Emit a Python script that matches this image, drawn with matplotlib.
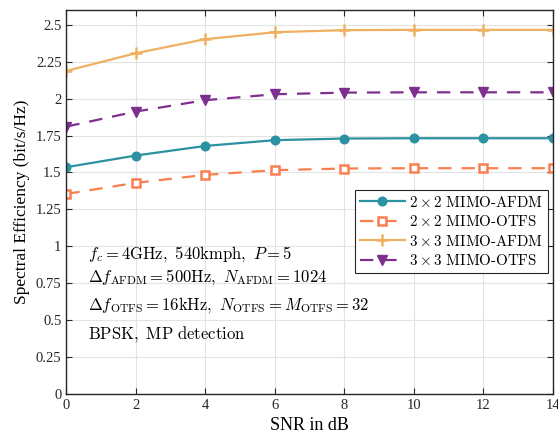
import matplotlib
matplotlib.use('Agg')
import matplotlib.pyplot as plt

snr = [0, 2, 4, 6, 8, 10, 12, 14]
se_afdm_2x2 = [1.536, 1.615, 1.680, 1.719, 1.730, 1.732, 1.732, 1.732]
se_otfs_2x2 = [1.355, 1.430, 1.484, 1.516, 1.527, 1.529, 1.529, 1.529]
se_afdm_3x3 = [2.188, 2.308, 2.403, 2.450, 2.464, 2.466, 2.466, 2.466]
se_otfs_3x3 = [1.811, 1.913, 1.990, 2.030, 2.041, 2.043, 2.043, 2.043]

labels = [r'$2\times2$ MIMO-AFDM', r'$2\times2$ MIMO-OTFS',
          r'$3\times3$ MIMO-AFDM', r'$3\times3$ MIMO-OTFS']
yticks = [0, 0.25, 0.5, 0.75, 1, 1.25, 1.5, 1.75, 2, 2.25, 2.5]
ytick_labels = ['0', '0.25', '0.5', '0.75', '1', '1.25', '1.5', '1.75', '2', '2.25', '2.5']

notes = [r'$f_c = 4\mathrm{GHz},\ 540\mathrm{kmph},\ P = 5$',
         r'$\Delta f_{\mathrm{AFDM}} = 500\mathrm{Hz},\ N_{\mathrm{AFDM}} = 1024$',
         r'$\Delta f_{\mathrm{OTFS}} = 16\mathrm{kHz},\ N_{\mathrm{OTFS}} = M_{\mathrm{OTFS}} = 32$',
         r'$\mathrm{BPSK},\ \mathrm{MP\ detection}$']
note_y = [0.92, 0.765, 0.574, 0.377]

plt.rcParams['mathtext.fontset'] = 'cm'
plt.rcParams['font.family'] = ['Liberation Serif', 'DejaVu Serif']

fig = plt.figure(figsize=(5.58, 4.38), dpi=100)
ax = fig.add_axes([0.119, 0.1005, 0.872, 0.8765])

c_teal = '#2C91A0'
c_coral = '#FA7F50'
c_sand = '#F0B062'
c_purple = '#7E2F8E'

ax.plot(snr, se_afdm_2x2, '-', color=c_teal, lw=1.6, marker='o', ms=6.2, label=labels[0])
ax.plot(snr, se_otfs_2x2, '--', color=c_coral, lw=1.6, marker='s', ms=6, mfc='white', mew=1.8,
        dashes=(6, 4.5), label=labels[1])
ax.plot(snr, se_afdm_3x3, '-', color=c_sand, lw=1.6, marker='+', ms=9, mew=1.8, label=labels[2])
ax.plot(snr, se_otfs_3x3, '--', color=c_purple, lw=1.6, marker='v', ms=7, dashes=(6, 4.5),
        label=labels[3])

for txt, yy in zip(notes, note_y):
    ax.text(0.62, yy, txt, fontsize=12, va='baseline', ha='left')

ax.set_xlim(0, 14)
ax.set_ylim(0, 2.6)
ax.set_xticks(snr)
ax.set_yticks(yticks)
ax.set_yticklabels(ytick_labels)
ax.grid(True, color='#E3E3E3', lw=0.8)
ax.set_axisbelow(True)
ax.tick_params(direction='in', top=True, right=True, length=4, labelsize=10.5, colors='#262626')
for s in ax.spines.values():
    s.set_color('#262626')
    s.set_linewidth(1)

ax.set_xlabel('SNR in dB', fontsize=13)
ax.set_ylabel('Spectral Efficiency (bit/s/Hz)', fontsize=12.5)

leg = ax.legend(loc='lower right', bbox_to_anchor=(0.99, 0.316),
                prop={'family': ['cmr10', 'DejaVu Serif'], 'size': 10.8},
                handlelength=3.0, handletextpad=0.3, labelspacing=0.3,
                borderpad=0.3, borderaxespad=0, fancybox=False, framealpha=1)
leg.get_frame().set_edgecolor('#262626')
leg.get_frame().set_linewidth(0.8)

fig.savefig('out.png', dpi=100)
